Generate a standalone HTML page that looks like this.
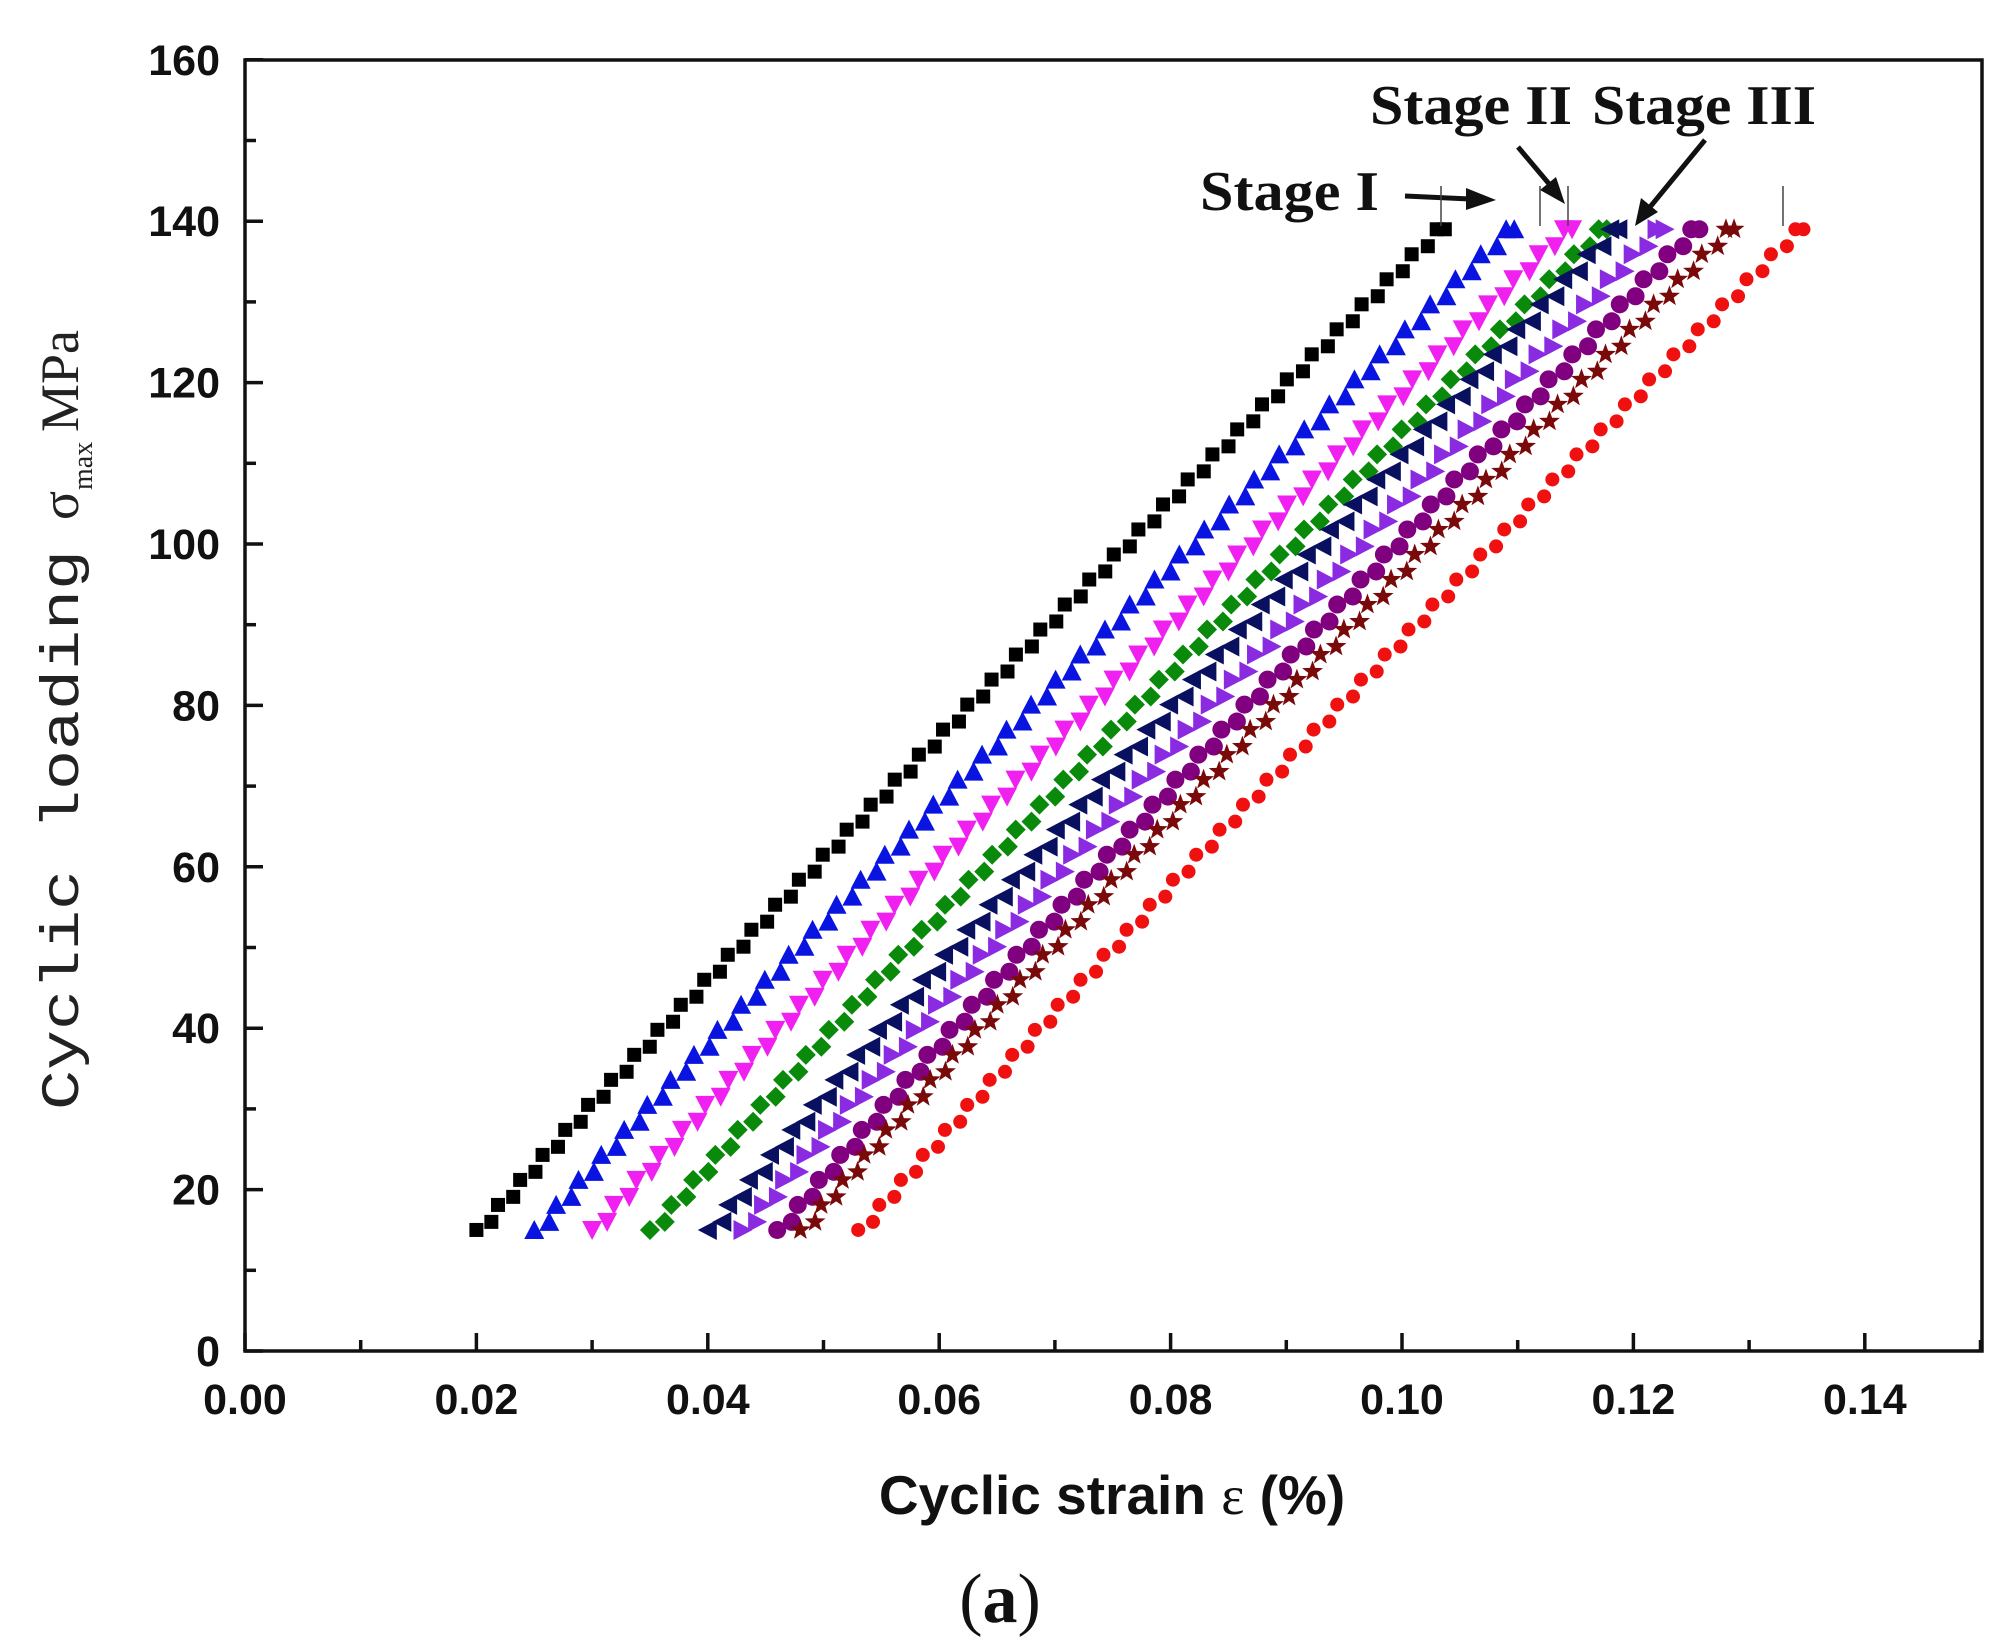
<!DOCTYPE html>
<html><head><meta charset="utf-8"><style>
html,body{margin:0;padding:0;background:#fff;}
svg{display:block;}
</style></head><body>
<svg id="s" xmlns="http://www.w3.org/2000/svg" width="2007" height="1651" viewBox="0 0 2007 1651">
<rect width="2007" height="1651" fill="#fff"/>
<g id="data"></g>
<rect x="245" y="60" width="1737" height="1291" fill="none" stroke="#111" stroke-width="3.5"/>
<g id="ticks" stroke="#111" stroke-width="3.5"></g>
<g id="labels" font-family="Liberation Sans, Arial, sans-serif" font-weight="bold" font-size="43" fill="#111"></g>
<text x="1112" y="1514" font-family="Liberation Sans, Arial, sans-serif" font-weight="bold" font-size="55" fill="#111" text-anchor="middle">Cyclic strain <tspan font-family="Liberation Serif, serif" font-weight="normal">ε</tspan> (%)</text>
<text x="1000" y="1622" font-family="Liberation Serif, serif" font-size="70" fill="#111" text-anchor="middle">(<tspan font-weight="bold">a</tspan>)</text>
<g transform="translate(78,1110) rotate(-90)" font-family="Liberation Mono, monospace" fill="#222">
<text x="0" y="0" font-size="54" textLength="560" lengthAdjust="spacingAndGlyphs">Cyclic loading</text>
<text x="590" y="0" font-size="54" font-family="Liberation Serif, serif">σ</text>
<text x="620" y="14" font-size="28" font-family="Liberation Serif, serif">max</text>
<text x="678" y="0" font-size="54" font-family="Liberation Serif, serif">MPa</text>
</g>
<g font-family="Liberation Serif, serif" font-weight="bold" font-size="56" fill="#111">
<text x="1200" y="210" textLength="179" lengthAdjust="spacingAndGlyphs">Stage I</text>
<text x="1370" y="124" textLength="202" lengthAdjust="spacingAndGlyphs">Stage II</text>
<text x="1592" y="124" textLength="224" lengthAdjust="spacingAndGlyphs">Stage III</text>
</g>
<g stroke="#111" stroke-width="5" fill="#111">
<line x1="1405" y1="196" x2="1470" y2="199"/>
<polygon points="1496,200 1466,188 1466,210" stroke="none"/>
<line x1="1518" y1="147" x2="1550" y2="185"/>
<polygon points="1565,204 1540,190 1556,177" stroke="none"/>
<line x1="1705" y1="140" x2="1650" y2="207"/>
<polygon points="1635,226 1641,198 1658,212" stroke="none"/>
</g>
<g stroke="#444" stroke-width="1.5">
<line x1="1441" y1="186" x2="1441" y2="226"/>
<line x1="1540" y1="186" x2="1540" y2="226"/>
<line x1="1568" y1="186" x2="1568" y2="226"/>
<line x1="1783" y1="186" x2="1783" y2="226"/>
</g>
</svg>
<script>
var NS="http://www.w3.org/2000/svg";
function X(v){return 245+v*11570;}
function Y(v){return 1351-v*8.07;}
var t=document.getElementById('ticks'),L=document.getElementById('labels'),D=document.getElementById('data');
function el(tag,a,p){var e=document.createElementNS(NS,tag);for(var k in a)e.setAttribute(k,a[k]);p.appendChild(e);return e;}
for(var i=0;i<=16;i++){var y=Y(i*10),len=(i%2==0)?18:11;el('line',{x1:245,y1:y,x2:245+len,y2:y},t);
 if(i%2==0){var tx=el('text',{x:220,y:y+15,'text-anchor':'end'},L);tx.textContent=String(i*10);}}
for(var i=0;i<=15;i++){var x=X(i*0.01),len=(i%2==0)?18:11;el('line',{x1:x,y1:1351,x2:x,y2:1351-len},t);
 if(i%2==0){var tx=el('text',{x:x,y:1414,'text-anchor':'middle'},L);tx.textContent=(i*0.01).toFixed(2);}}
var S=[
 ['#000','sq',0.020,0.103],['#0a14e0','up',0.025,0.109],['#f020f0','dn',0.030,0.114],
 ['#0a8a0a','dia',0.035,0.117],['#0a1060','lt',0.040,0.118],['#8a2be2','rt',0.043,0.122],
 ['#800080','hex',0.046,0.125],['#7a0a0a','star',0.048,0.128],['#f01010','circ',0.053,0.134]];
function marker(type,x,y,c){var r=9;
 if(type=='sq')el('rect',{x:x-r+2,y:y-r+2,width:2*r-4,height:2*r-4,fill:c},D);
 else if(type=='circ'||type=='hex')el('circle',{cx:x,cy:y,r:type=='hex'?9:7,fill:c},D);
 else{var p;
  if(type=='up')p=[[0,-r-1],[r+1,r],[-r-1,r]];
  else if(type=='dn')p=[[0,r+1],[r+1,-r],[-r-1,-r]];
  else if(type=='lt')p=[[-r-1,0],[r,-r-1],[r,r+1]];
  else if(type=='rt')p=[[r+1,0],[-r,-r-1],[-r,r+1]];
  else if(type=='dia')p=[[0,-r-1],[r+1,0],[0,r+1],[-r-1,0]];
  else{p=[];for(var k=0;k<10;k++){var a=-Math.PI/2+k*Math.PI/5,rr=k%2?4.5:11;p.push([rr*Math.cos(a),rr*Math.sin(a)]);}}
  el('polygon',{points:p.map(function(q){return (x+q[0])+','+(y+q[1]);}).join(' '),fill:c},D);}
}
S.forEach(function(s){
 for(var v=15;v<=139.2;v+=3.1){
  for(var j=0;j<2;j++){var vv=Math.min(139,v+j*1.0);var f=(vv-15)/124;
   var x=s[2]+(s[3]-s[2])*(f*0.85+0.15*Math.pow(f,1.3))+j*0.0007;
   marker(s[1],X(x),Y(vv),s[0]);}
 }
});
</script>
</body></html>
